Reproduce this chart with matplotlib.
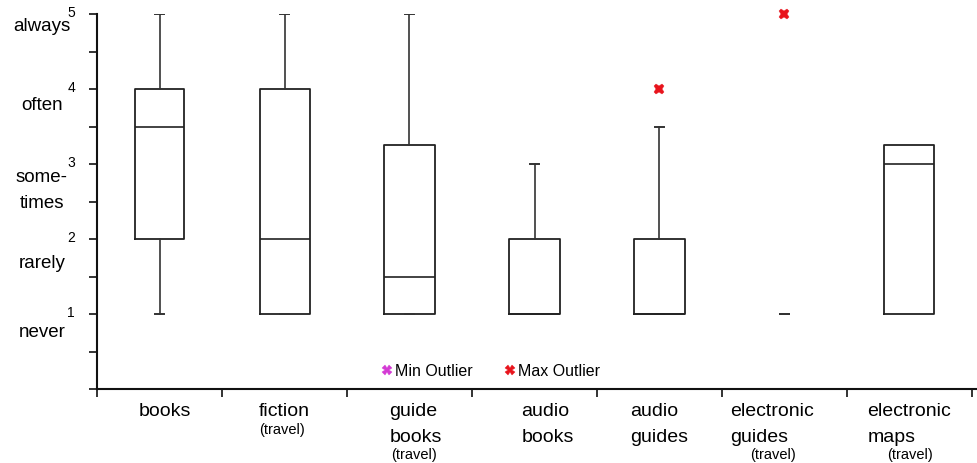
import matplotlib
matplotlib.use("Agg")
import matplotlib.pyplot as plt
from matplotlib.lines import Line2D

plt.rcParams["font.family"] = ["Liberation Sans", "DejaVu Sans"]

# ---- data -------------------------------------------------------------
categories = ["books", "fiction", "guide\nbooks", "audio\nbooks",
              "audio\nguides", "electronic\nguides", "electronic\nmaps"]
travel_note = [False, True, True, False, False, True, True]

whisker_low = [1, 1, 1, 1, 1, 1, 1]
quartile_1 = [2, 1, 1, 1, 1, 1, 1]
median = [3.5, 2, 1.5, 1, 1, 1, 3]
quartile_3 = [4, 4, 3.25, 2, 2, 1, 3.25]
whisker_high = [5, 5, 5, 3, 3.5, 1, 3.25]
max_outliers = [[], [], [], [], [4], [5], []]

frequency_ticks = [1, 2, 3, 4, 5]
frequency_words = ["never", "rarely", "some-\ntimes", "often", "always"]

# ---- figure -----------------------------------------------------------
W, H = 978, 463
fig = plt.figure(figsize=(W / 100, H / 100), dpi=100)
left_px, right_px, top_px, bottom_px = 97, 978, 14, 389
ax = fig.add_axes([left_px / W, 1 - bottom_px / H,
                   (right_px - left_px) / W, (bottom_px - top_px) / H])

stats = []
for i, name in enumerate(categories):
    stats.append(dict(label=name, whislo=whisker_low[i], q1=quartile_1[i],
                      med=median[i], q3=quartile_3[i], whishi=whisker_high[i],
                      fliers=max_outliers[i]))

positions = list(range(1, len(categories) + 1))
art = ax.bxp(stats, positions=positions, widths=0.4, capwidths=0.065,
             boxprops=dict(color="#222222", linewidth=1.3),
             medianprops=dict(color="#222222", linewidth=1.2),
             whiskerprops=dict(color="#333333", linewidth=1.2),
             capprops=dict(color="#333333", linewidth=1.4),
             flierprops=dict(marker="X", markersize=7.5, markerfacecolor="#e8141c",
                             markeredgecolor="#e8141c", markeredgewidth=0.3,
                             linestyle="none"),
             manage_ticks=False)

for f in art["fliers"]:
    f.set_clip_on(False)

# single-valued category: only the cap dash shows
art["boxes"][5].set_visible(False)
art["medians"][5].set_visible(False)
# electronic maps: no whisker caps
art["caps"][12].set_visible(False)
art["caps"][13].set_visible(False)

ax.set_xlim(0.5, 0.5 + (right_px - left_px) / 125)
ax.set_ylim(0, 5)

# ---- axes styling -----------------------------------------------------
for s in ("top", "right"):
    ax.spines[s].set_visible(False)
for s in ("left", "bottom"):
    ax.spines[s].set_linewidth(1.5)
    ax.spines[s].set_color("#111111")

ax.set_xticks([p - 0.5 for p in positions] + [positions[-1] + 0.5])
ax.set_xticklabels([])
ax.set_yticks([v * 0.5 for v in range(11)])
ax.set_yticklabels([])
ax.tick_params(axis="both", direction="out", length=6, width=1.2,
               color="#111111")

# numeric frequency labels and their words
for v, word in zip(frequency_ticks, frequency_words):
    ax.annotate(str(v), xy=(0, v), xycoords=("axes fraction", "data"),
                xytext=(-26, 1), textcoords="offset pixels",
                ha="center", va="center", fontsize=10)

word_drop = {"always": [17], "often": [21], "some-\ntimes": [18, 44],
             "rarely": [29], "never": [23]}
for v, word in zip(frequency_ticks, frequency_words):
    for line, drop in zip(word.split("\n"), word_drop[word]):
        ax.annotate(line, xy=(0, v), xycoords=("axes fraction", "data"),
                    xytext=(-55, -drop), textcoords="offset pixels",
                    ha="center", va="baseline", fontsize=13.5)

# category labels below the axis
label_dx = [-21, -26, -20, -13, -29, -54, -42]
travel_dx = [0, -2, 5, 0, 0, -11, 1]
for i, name in enumerate(categories):
    lines = name.split("\n")
    for k, line in enumerate(lines):
        ax.annotate(line, xy=(positions[i], 0),
                    xycoords=("data", "axes fraction"),
                    xytext=(label_dx[i], -27 - 26 * k),
                    textcoords="offset pixels",
                    ha="left", va="baseline", fontsize=14)
    if travel_note[i]:
        y_off = -45 if len(lines) == 1 else -70
        ax.annotate("(travel)", xy=(positions[i], 0),
                    xycoords=("data", "axes fraction"),
                    xytext=(travel_dx[i], y_off), textcoords="offset pixels",
                    ha="center", va="baseline", fontsize=10.5,
                    annotation_clip=False)

# outlier legend
handles = [
    Line2D([], [], marker="X", color="#d43bd4", linestyle="none",
           markersize=6.5, markeredgewidth=0.3, label="Min Outlier"),
    Line2D([], [], marker="X", color="#e8141c", linestyle="none",
           markersize=6.5, markeredgewidth=0.3, label="Max Outlier"),
]
ax.legend(handles=handles, loc="center left",
          bbox_to_anchor=(0.324, 0.048), ncol=2, frameon=False,
          fontsize=11.5, handlelength=0.6, handletextpad=0.2,
          columnspacing=2.0, borderpad=0, borderaxespad=0)

fig.savefig("out.png", dpi=100)
